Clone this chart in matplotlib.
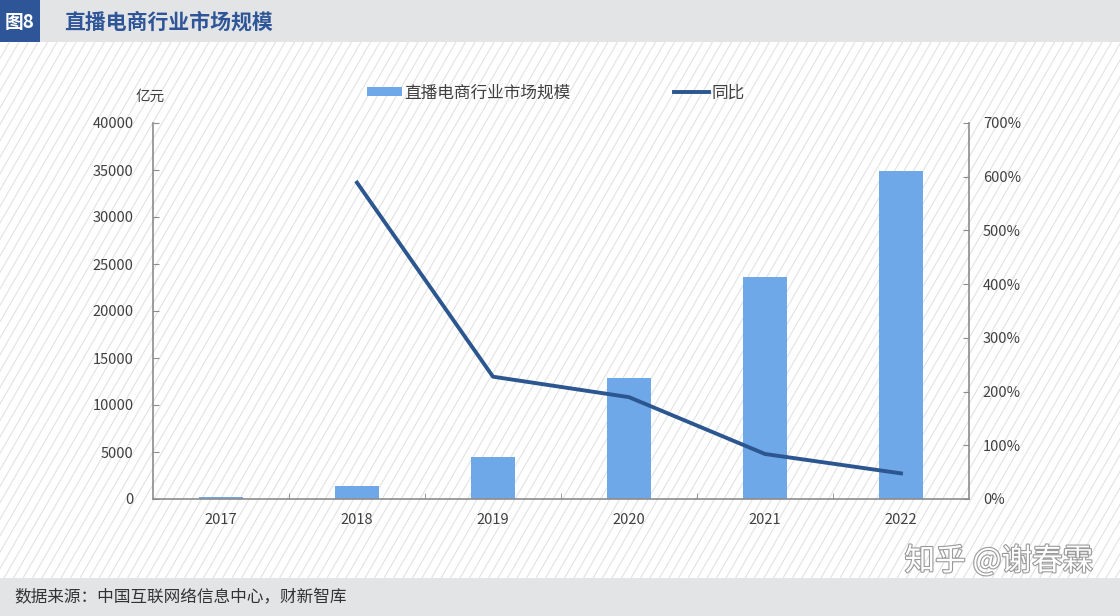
import matplotlib
matplotlib.use('Agg')
import numpy as np
import matplotlib.pyplot as plt
import matplotlib.patheffects as pe
from matplotlib.patches import Rectangle
from matplotlib.collections import LineCollection

plt.rcParams['font.family'] = ['Noto Sans CJK SC', 'DejaVu Sans']

# data
years = ['2017', '2018', '2019', '2020', '2021', '2022']
market_size = [196.4, 1354, 4437.5, 12850, 23615, 34879]   # 亿元
yoy_years = ['2018', '2019', '2020', '2021', '2022']
yoy = [589, 227.7, 189.6, 83.8, 47.7]                      # %

bar_color = '#6fa8e9'
line_color = '#2b568f'
text_color = '#404040'

fig = plt.figure(figsize=(11.2, 6.16), dpi=100)

# background: diagonal stripes, header and footer bands, white panel
bg = fig.add_axes([0, 0, 1, 1])
bg.set_xlim(0, 1120)
bg.set_ylim(616, 0)
bg.axis('off')
top, bottom = 42, 578
dx = (bottom - top) / np.tan(np.radians(60))
segs = [[(x0, bottom), (x0 + dx, top)] for x0 in np.arange(-dx, 1130, 9.5)]
bg.add_collection(LineCollection(segs, colors='#e2e2e2', linewidths=0.8))
bg.add_patch(Rectangle((0, 0), 1120, 42, facecolor='#e3e4e6', linewidth=0))
bg.add_patch(Rectangle((0, 0), 40, 42, facecolor='#2e5597', linewidth=0))
bg.add_patch(Rectangle((0, 578), 1120, 38, facecolor='#e3e4e6', linewidth=0))
bg.add_patch(Rectangle((82, 76), 953, 463, facecolor='white', linewidth=0))
bg.text(20, 22, '图8', color='white', fontsize=13.5, fontweight='bold', ha='center', va='center')
bg.text(64, 22, '直播电商行业市场规模', color='#2e5597', fontsize=15, fontweight='bold',
        ha='left', va='center')
bg.text(14, 598, '数据来源：中国互联网络信息中心，财新智库', color='#333333', fontsize=12,
        ha='left', va='center')
bg.text(1093, 561, '知乎 @谢春霖', color='white', fontsize=22, ha='right', va='center',
        path_effects=[pe.withStroke(linewidth=1.6, foreground='#9a9a9a')])

# main chart
ax = fig.add_axes([153 / 1120, 1 - 499 / 616, (969 - 153) / 1120, (499 - 123) / 616])
x = range(len(years))
bars = ax.bar(x, market_size, width=0.32, color=bar_color, label='直播电商行业市场规模', zorder=2)
ax.set_ylim(0, 40000)
ax.set_yticks(range(0, 40001, 5000))
ax.set_xlim(-0.5, len(years) - 0.5)
ax.set_xticks(list(x))
ax.set_xticklabels(years)
ax.set_xticks([i + 0.5 for i in range(len(years) - 1)], minor=True)

ax2 = ax.twinx()
yoy_x = [years.index(y) for y in yoy_years]
line, = ax2.plot(yoy_x, yoy, color=line_color, linewidth=2.8, label='同比', zorder=3)
ax2.set_ylim(0, 700)
ax2.set_yticks(range(0, 701, 100))
ax2.set_yticklabels([f'{v}%' for v in range(0, 701, 100)])

for a in (ax, ax2):
    a.patch.set_alpha(0)
    for s in a.spines.values():
        s.set_visible(False)
    a.tick_params(colors=text_color, labelsize=10.5)

ax.spines['left'].set_visible(True)
ax.spines['bottom'].set_visible(True)
ax2.spines['right'].set_visible(True)
for s in (ax.spines['left'], ax.spines['bottom'], ax2.spines['right']):
    s.set_color('#8c8c8c')
    s.set_linewidth(1.2)

ax.tick_params(axis='y', direction='in', length=4, color='#8c8c8c', pad=14)
ax.tick_params(axis='x', which='major', length=0, pad=10)
ax.tick_params(axis='x', which='minor', direction='in', length=4, color='#8c8c8c')
ax2.tick_params(axis='y', direction='in', length=4, color='#8c8c8c', pad=10)

ax.text(-0.004, 1.07, '亿元', transform=ax.transAxes, ha='center', va='center',
        fontsize=10.5, color=text_color)

fig.legend([bars, line], ['直播电商行业市场规模', '同比'], loc='center',
           bbox_to_anchor=(556 / 1120, 1 - 93 / 616), ncol=2, frameon=False,
           fontsize=12, handlelength=2.1, handleheight=0.45, columnspacing=6.2,
           labelcolor=text_color, handletextpad=0.15)

fig.savefig('out.png', dpi=100)
